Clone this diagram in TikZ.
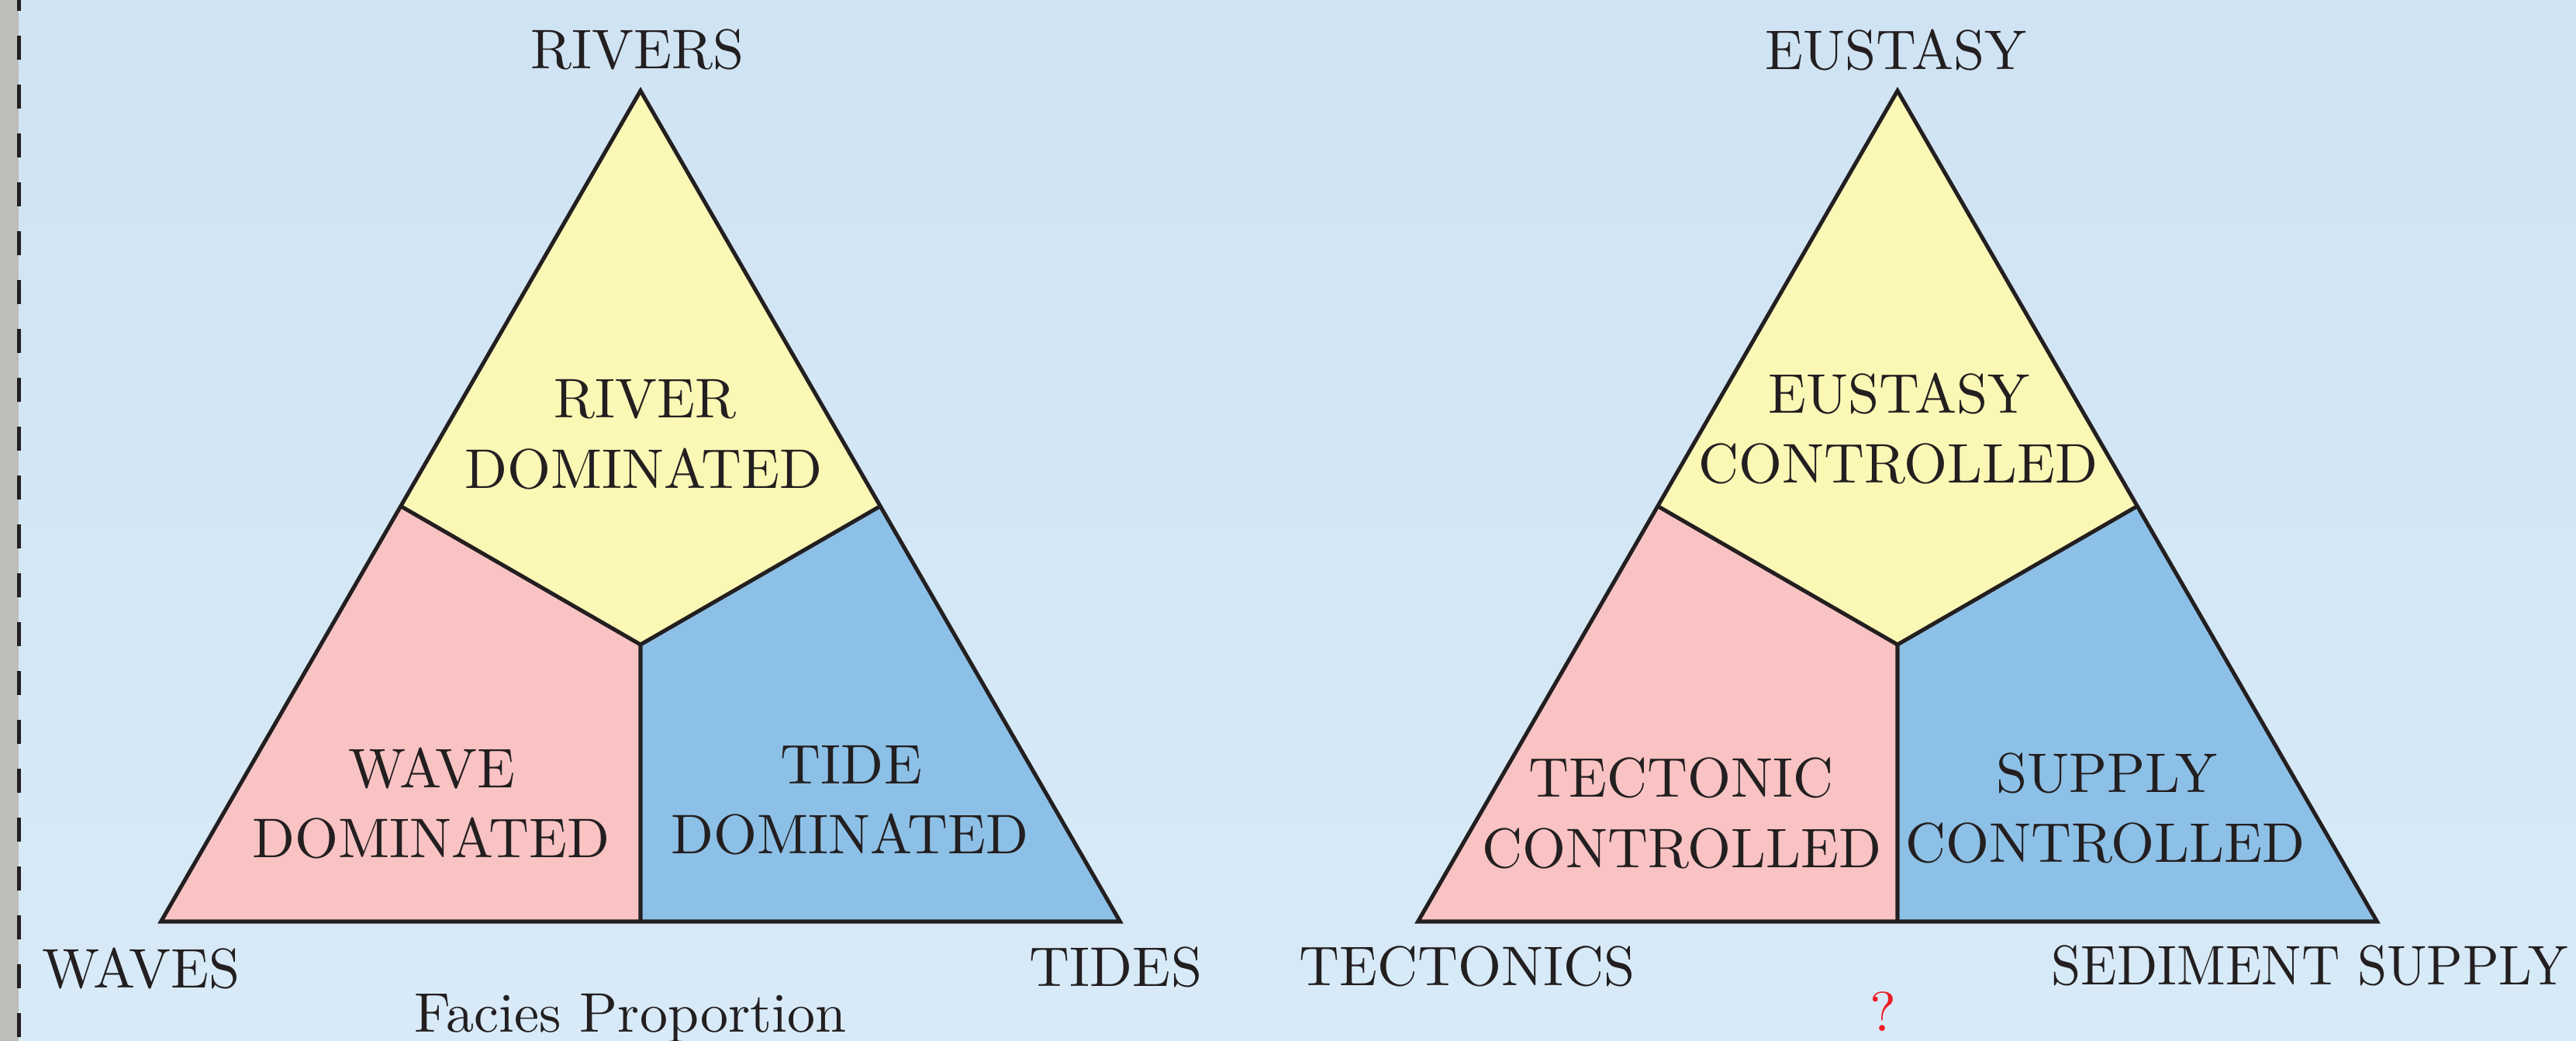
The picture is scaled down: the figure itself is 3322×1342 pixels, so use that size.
\documentclass[tikz,border=0pt]{standalone}
\usepackage{fontspec}
\usepackage{graphicx}
\setmainfont{lmroman10-regular.otf}
\usetikzlibrary{calc}
\definecolor{bgtop}{HTML}{CFE3F3}
\definecolor{bgbot}{HTML}{D8EAF7}
\definecolor{stripgray}{HTML}{BDBDB9}
\definecolor{ink}{HTML}{231F20}
\definecolor{yel}{HTML}{FBF7B5}
\definecolor{pnk}{HTML}{F9C3C3}
\definecolor{blu}{HTML}{8DC0E6}
\definecolor{qred}{HTML}{ED1C24}
\begin{document}
\begin{tikzpicture}[x=0.1mm,y=-0.1mm,
  lbl/.style={inner sep=0pt, anchor=base, font=\fontsize{20.5}{26}\selectfont, text=ink},
  edgeline/.style={draw=ink, line width=1.45pt, line join=miter},
  ]
\useasboundingbox (0,0) rectangle (3322,1342);
\begin{scope}
  \clip (0,0) rectangle (3322,1342);
  \shade[top color=bgtop, bottom color=bgbot] (0,0) rectangle (3322,1342);
  \fill[stripgray] (0,0) rectangle (24,1342);
  \draw[ink, line width=1.42pt, dash pattern=on 3.1mm off 3.2mm, dash phase=1.7mm] (24.5,0) -- (24.5,1342);
\end{scope}

% ---------- left triangle ----------
\coordinate (LA) at (826,117);
\coordinate (LBL) at (207.6,1188);
\coordinate (LBR) at (1444.4,1188);
\coordinate (LC) at (826,831);
\coordinate (LML) at ($(LA)!0.5!(LBL)$);
\coordinate (LMR) at ($(LA)!0.5!(LBR)$);
\coordinate (LMB) at ($(LBL)!0.5!(LBR)$);
\fill[yel] (LA) -- (LMR) -- (LC) -- (LML) -- cycle;
\fill[pnk] (LML) -- (LC) -- (LMB) -- (LBL) -- cycle;
\fill[blu] (LC) -- (LMR) -- (LBR) -- (LMB) -- cycle;
\draw[edgeline] (LML) -- (LC) -- (LMR) (LC) -- (LMB);
\draw[edgeline] (LA) -- (LBR) -- (LBL) -- cycle;

% ---------- right triangle ----------
\coordinate (RA) at (2447,117);
\coordinate (RBL) at (1828.6,1188);
\coordinate (RBR) at (3065.4,1188);
\coordinate (RC) at (2447,831);
\coordinate (RML) at ($(RA)!0.5!(RBL)$);
\coordinate (RMR) at ($(RA)!0.5!(RBR)$);
\coordinate (RMB) at ($(RBL)!0.5!(RBR)$);
\fill[yel] (RA) -- (RMR) -- (RC) -- (RML) -- cycle;
\fill[pnk] (RML) -- (RC) -- (RMB) -- (RBL) -- cycle;
\fill[blu] (RC) -- (RMR) -- (RBR) -- (RMB) -- cycle;
\draw[edgeline] (RML) -- (RC) -- (RMR) (RC) -- (RMB);
\draw[edgeline] (RA) -- (RBR) -- (RBL) -- cycle;

% ---------- labels, left ----------
\node[lbl] (rivers) at (822,89) {RIVERS};
\node[lbl] (riverA) at (832,539) {RIVER};
\node[lbl] (riverB) at (830,630) {DOMINATED};
\node[lbl] (waveA) at (557,1016) {WAVE};
\node[lbl] (waveB) at (556,1106) {DOMINATED};
\node[lbl] (tideA) at (1098,1011) {TIDE};
\node[lbl] (tideB) at (1096,1101) {DOMINATED};
\node[lbl] (waves) at (182,1273) {WAVES};
\node[lbl] (tides) at (1439,1271) {TIDES};
\node[lbl] (facies) at (813,1330) {Facies Proportion};

% ---------- labels, right ----------
\node[lbl] (eustasy) at (2445,90) {EUSTASY};
\node[lbl] (eusA) at (2449,533) {EUSTASY};
\node[lbl] (eusB) at (2448,623) {CONTROLLED};
\node[lbl] (tecA) at (2168,1028) {TECTONIC};
\node[lbl] (tecB) at (2169,1118) {CONTROLLED};
\node[lbl] (supA) at (2717,1022) {SUPPLY};
\node[lbl] (supB) at (2715,1112) {CONTROLLED};
\node[lbl] (tectonics) at (1892,1270) {TECTONICS};
\node[lbl, anchor=base east] (sedsup) at (3312,1269) {\scalebox{0.95}[1]{SEDIMENT SUPPLY}};
\node[lbl, text=qred] (qmark) at (2428,1329) {?};
\end{tikzpicture}
\end{document}
